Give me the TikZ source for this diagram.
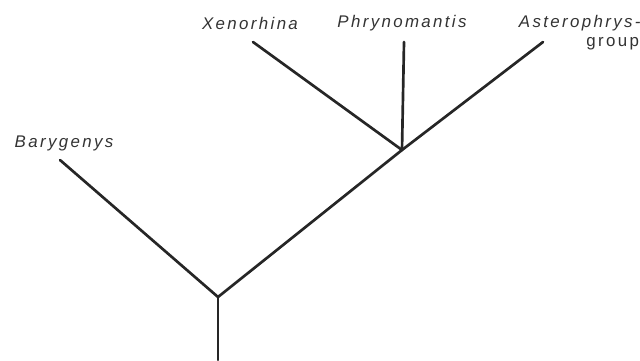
\documentclass[tikz,border=0pt]{standalone}
\usepackage{fontspec}
\newfontfamily\cladefont[LetterSpace=14]{Liberation Sans}
\usetikzlibrary{positioning}

\begin{document}
\begin{tikzpicture}[
  branch/.style={line width=1.9pt, black!85, line cap=round},
  taxon/.style={font=\cladefont\itshape\fontsize{12}{13}\selectfont, text=black!80, inner sep=0pt}
]
  \useasboundingbox (0,0) rectangle (16,9);

  % tree points
  \coordinate (base)    at (5.45,0);
  \coordinate (root)    at (5.45,1.575);
  \coordinate (upper)   at (10.05,5.25);
  \coordinate (bary)    at (1.5,5.0);
  \coordinate (xeno)    at (6.325,7.95);
  \coordinate (phryno)  at (10.1,7.95);
  \coordinate (aster)   at (13.575,7.95);

  % labels
  \node[taxon] (lbary)   at (1.6,5.42) {Barygenys};
  \node[taxon] (lxeno)   at (6.25,8.42)  {Xenorhina};
  \node[taxon] (lphryno) at (10.05,8.42) {Phrynomantis};
  \node[taxon, anchor=east] (laster)  at (16.02,8.42) {Asterophrys-};
  \node[taxon, font=\cladefont\fontsize{12}{13}\selectfont, anchor=east] (lgroup) at (15.98,7.9) {group};

  \draw[branch] (base) -- (root);
  \draw[branch] (root) -- (bary);
  \draw[branch] (root) -- (upper);
  \draw[branch] (upper) -- (xeno);
  \draw[branch] (upper) -- (phryno);
  \draw[branch] (upper) -- (aster);
\end{tikzpicture}
\end{document}
